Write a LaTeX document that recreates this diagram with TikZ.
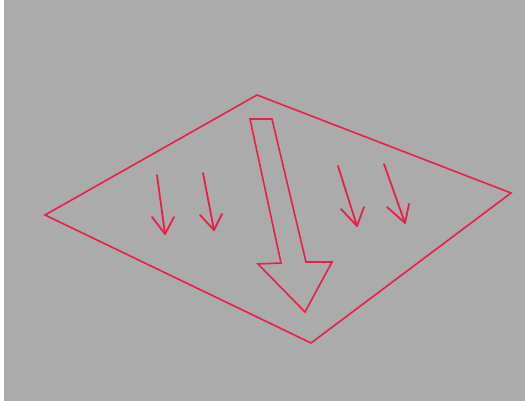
\documentclass[tikz,border=0pt]{standalone}
\definecolor{bg}{RGB}{171,171,171}
\definecolor{ln}{RGB}{232,32,72}
\begin{document}
\begin{tikzpicture}[x=1pt,y=-1pt,
  shape line/.style={draw=ln,line width=1.6pt,line join=miter},
  thin arrow/.style={draw=ln,line width=1.8pt,line cap=round,line join=round}]
\useasboundingbox (0,0) rectangle (525,401);
\fill[bg] (0,0) rectangle (525,401);
\fill[white] (0,0) rectangle (4,401);
% plane
\coordinate (t) at (257,95);
\coordinate (l) at (45,215);
\coordinate (r) at (511,193);
\coordinate (b) at (311,343);
\draw[shape line] (t) -- (r) -- (b) -- (l) -- cycle;
% big arrow
\coordinate (s1) at (250,119);
\coordinate (s2) at (272,119);
\coordinate (s3) at (306,262);
\coordinate (h1) at (332,262);
\coordinate (tip) at (305,312);
\coordinate (h2) at (258,264);
\coordinate (s4) at (281,263);
\draw[shape line] (s1) -- (s2) -- (s3) -- (h1) -- (tip) -- (h2) -- (s4) -- cycle;
% small arrows
\coordinate (a1) at (157,175); \coordinate (a1t) at (165,234);
\coordinate (a1l) at (152,217); \coordinate (a1r) at (174,217);
\coordinate (a2) at (203,173); \coordinate (a2t) at (214,230);
\coordinate (a2l) at (200,215); \coordinate (a2r) at (222,214);
\coordinate (a3) at (338,166); \coordinate (a3t) at (357,226);
\coordinate (a3l) at (341,209); \coordinate (a3r) at (364,207);
\coordinate (a4) at (384,164); \coordinate (a4t) at (405,223);
\coordinate (a4l) at (387,207); \coordinate (a4r) at (409,204);
\foreach \n in {a1,a2,a3,a4}{
  \draw[thin arrow] (\n) -- (\n t);
  \draw[thin arrow] (\n l) -- (\n t) -- (\n r);
}
\end{tikzpicture}
\end{document}
